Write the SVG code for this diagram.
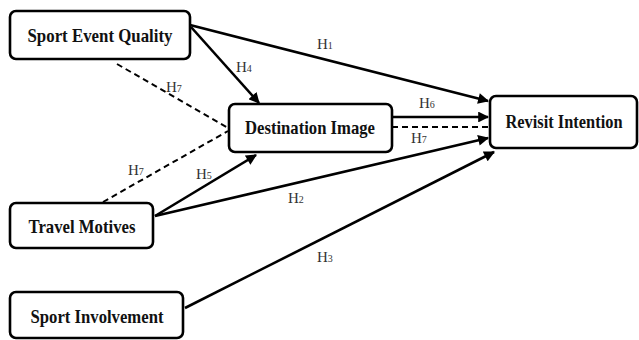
<svg xmlns="http://www.w3.org/2000/svg" width="639" height="340" viewBox="0 0 639 340">
<style>
.box{fill:#fff;stroke:#000;stroke-width:2.6}
.bt{font-family:"Liberation Serif",serif;font-weight:bold;font-size:19px;text-anchor:middle;fill:#111}
.ln{stroke:#000;stroke-width:2.6;fill:none}
.ds{stroke:#000;stroke-width:2;fill:none;stroke-dasharray:6,4}
.lb{font-family:"Liberation Serif",serif;font-size:15px;fill:#333}
.sb{font-size:10px}
</style>
<defs>
<marker id="ah" viewBox="0 0 10 10" refX="9" refY="5" markerWidth="4.4" markerHeight="4.2" markerUnits="strokeWidth" orient="auto">
<path d="M0,0 L10,5 L0,10 Z" fill="#000"/>
</marker>
</defs>
<g id="connectors">
<line class="ln" x1="190" y1="25" x2="488" y2="101" marker-end="url(#ah)"/>
<line class="ln" x1="191" y1="27" x2="259" y2="103" marker-end="url(#ah)"/>
<line class="ln" x1="392" y1="117" x2="488" y2="117" marker-end="url(#ah)"/>
<line class="ds" x1="392" y1="127" x2="488" y2="127"/>
<line class="ln" x1="155" y1="216" x2="488" y2="138" marker-end="url(#ah)"/>
<line class="ln" x1="155" y1="216" x2="256" y2="155" marker-end="url(#ah)"/>
<line class="ln" x1="185" y1="308" x2="494" y2="152" marker-end="url(#ah)"/>
<line class="ds" x1="117" y1="64" x2="228" y2="128"/>
<line class="ds" x1="103" y1="202" x2="228" y2="131"/>
</g>
<g id="labels">
<text class="lb" x="317" y="49">H<tspan class="sb">1</tspan></text>
<text class="lb" x="236" y="72">H<tspan class="sb">4</tspan></text>
<text class="lb" x="166" y="92">H<tspan class="sb">7</tspan></text>
<text class="lb" x="419" y="108">H<tspan class="sb">6</tspan></text>
<text class="lb" x="411" y="143">H<tspan class="sb">7</tspan></text>
<text class="lb" x="128" y="175">H<tspan class="sb">7</tspan></text>
<text class="lb" x="196" y="179">H<tspan class="sb">5</tspan></text>
<text class="lb" x="288" y="203">H<tspan class="sb">2</tspan></text>
<text class="lb" x="317" y="262">H<tspan class="sb">3</tspan></text>
</g>
<g id="sport-event-quality">
<rect class="box" x="10" y="11" width="180" height="48" rx="6"/>
<text class="bt" x="100" y="42" textLength="145" lengthAdjust="spacingAndGlyphs">Sport Event Quality</text>
</g>
<g id="destination-image">
<rect class="box" x="229" y="104" width="163" height="48" rx="6"/>
<text class="bt" x="310" y="134" textLength="130" lengthAdjust="spacingAndGlyphs">Destination Image</text>
</g>
<g id="revisit-intention">
<rect class="box" x="490" y="96" width="147" height="52" rx="6"/>
<text class="bt" x="564" y="128" style="font-size:18px" textLength="117" lengthAdjust="spacingAndGlyphs">Revisit Intention</text>
</g>
<g id="travel-motives">
<rect class="box" x="10" y="203" width="143" height="45" rx="6"/>
<text class="bt" x="82" y="233" textLength="107" lengthAdjust="spacingAndGlyphs">Travel Motives</text>
</g>
<g id="sport-involvement">
<rect class="box" x="10" y="292" width="173" height="46" rx="6"/>
<text class="bt" x="97" y="323" textLength="133" lengthAdjust="spacingAndGlyphs">Sport Involvement</text>
</g>
</svg>
